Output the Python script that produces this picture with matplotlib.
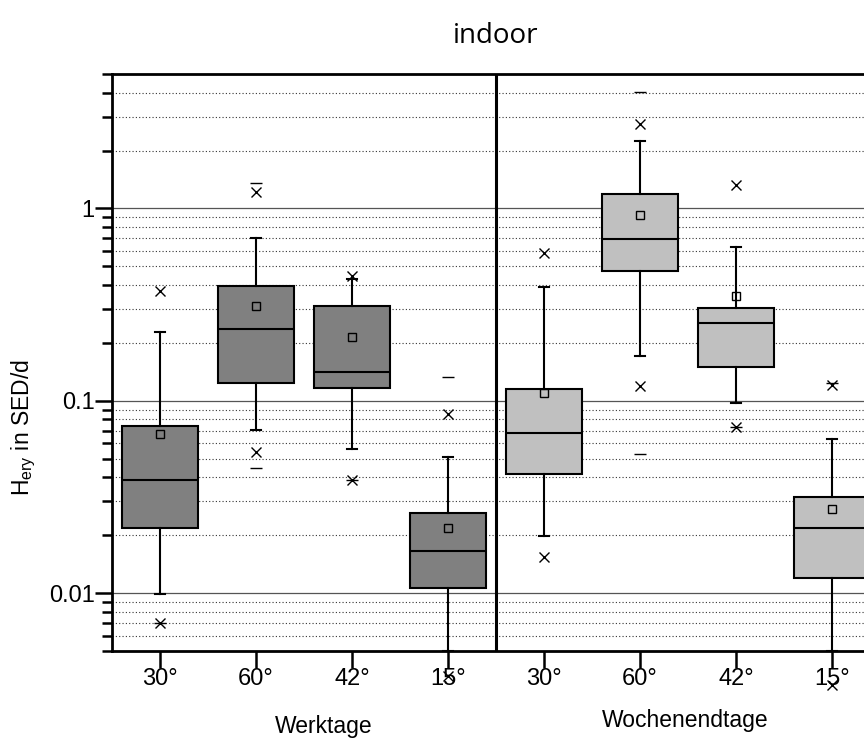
import matplotlib
matplotlib.use('Agg')
import matplotlib.pyplot as plt
from matplotlib.ticker import FixedLocator, NullFormatter

plt.rcParams['font.family'] = ['Liberation Sans', 'DejaVu Sans']
plt.rcParams['mathtext.default'] = 'regular'

# Winkel je Gruppe (Werktage, Wochenendtage)
winkel = ['30°', '60°', '42°', '15°']

# Werktage
wt_whislo = [0.0099, 0.0705, 0.056, 0.005]
wt_q1 = [0.0218, 0.124, 0.117, 0.0106]
wt_med = [0.0388, 0.236, 0.1416, 0.0166]
wt_q3 = [0.0737, 0.396, 0.311, 0.0262]
wt_whishi = [0.227, 0.703, 0.43, 0.0513]
wt_mean = [0.067, 0.310, 0.214, 0.0218]
wt_p1_p99 = [[0.0070, 0.373], [0.0542, 1.22], [0.0389, 0.445], [0.0037, 0.0857]]
wt_min_max = [[0.0070], [0.0446, 1.36], [0.0389], [0.133]]

# Wochenendtage
we_whislo = [0.0197, 0.170, 0.0978, 0.005]
we_q1 = [0.0415, 0.474, 0.150, 0.0120]
we_med = [0.0678, 0.690, 0.253, 0.0218]
we_q3 = [0.115, 1.19, 0.305, 0.0315]
we_whishi = [0.389, 2.24, 0.627, 0.0633]
we_mean = [0.110, 0.923, 0.350, 0.0273]
we_p1_p99 = [[0.0154, 0.588], [0.120, 2.74], [0.0733, 1.33], [0.00334, 0.121]]
we_min_max = [[], [0.0529, 4.02], [0.0733], [0.123]]


def statistik(whislo, q1, med, q3, whishi, mean):
    return [dict(whislo=a, q1=b, med=c, q3=d, whishi=e, mean=f, fliers=[])
            for a, b, c, d, e, f in zip(whislo, q1, med, q3, whishi, mean)]


fig = plt.figure(figsize=(8.64, 7.4), dpi=100)
ax = fig.add_axes([112 / 864, 89 / 740, 768 / 864, 577 / 740])

gruppen = [
    (statistik(wt_whislo, wt_q1, wt_med, wt_q3, wt_whishi, wt_mean), wt_p1_p99, wt_min_max, '#808080', [0, 1, 2, 3]),
    (statistik(we_whislo, we_q1, we_med, we_q3, we_whishi, we_mean), we_p1_p99, we_min_max, '#c0c0c0', [4, 5, 6, 7]),
]

for stats, p1_p99, min_max, farbe, pos in gruppen:
    ax.bxp(stats, positions=pos, widths=0.785, capwidths=0.11, patch_artist=True,
           showmeans=True, showfliers=False,
           boxprops=dict(facecolor=farbe, edgecolor='black', linewidth=1.5),
           medianprops=dict(color='black', linewidth=1.5),
           whiskerprops=dict(color='black', linewidth=1.5),
           capprops=dict(color='black', linewidth=1.5, clip_on=False),
           meanprops=dict(marker='s', markersize=5.5, markerfacecolor='none',
                          markeredgecolor='black', markeredgewidth=1.0))
    for x, werte in zip(pos, p1_p99):
        ax.plot([x] * len(werte), werte, ls='none', marker='x', ms=6.5,
                mec='black', mew=1.0, clip_on=False, zorder=4)
    for x, werte in zip(pos, min_max):
        ax.plot([x] * len(werte), werte, ls='none', marker='_', ms=8,
                mec='black', mew=1.0, clip_on=False, zorder=4)

ax.set_yscale('log')
ax.set_ylim(0.005, 5)
ax.set_xlim(-0.5, 7.5)

ax.yaxis.set_major_locator(FixedLocator([0.01, 0.1, 1]))
ax.set_yticklabels(['0.01', '0.1', '1'])
ax.yaxis.set_minor_locator(FixedLocator(
    [m * 10.0 ** e for e in (-3, -2, -1, 0) for m in range(2, 10)]))
ax.yaxis.set_minor_formatter(NullFormatter())

ax.set_xticks(range(8))
ax.set_xticklabels(winkel * 2)

ax.tick_params(axis='both', which='major', direction='out', length=12, width=1.8,
               labelsize=17)
ax.tick_params(axis='x', which='major', pad=0.5)
ax.tick_params(axis='y', which='major', pad=0.5)
ax.tick_params(axis='y', which='minor', direction='out', length=7, width=1.8)

ax.yaxis.grid(True, which='major', ls='-', color='#555555', lw=0.9)
ax.yaxis.grid(True, which='minor', ls=(0, (1, 2)), color='#333333', lw=0.8)
ax.set_axisbelow(True)

for s in ['left', 'top', 'bottom']:
    ax.spines[s].set_linewidth(2)
ax.spines['right'].set_visible(False)
ax.axvline(3.5, color='black', lw=2.2, zorder=5)

ax.set_title('indoor', fontsize=20, family=['Open Sans', 'DejaVu Sans'], pad=22)
ax.set_ylabel('H$_{ery}$ in SED/d', fontsize=16.5)
ax.yaxis.set_label_coords(-0.096, 0.388)

fig.text(324 / 864, 1 - 727 / 740, 'Werktage', fontsize=16.5, ha='center', va='center')
fig.text(685 / 864, 1 - 720 / 740, 'Wochenendtage', fontsize=16.5, ha='center', va='center')

fig.savefig('out.png', dpi=100)
